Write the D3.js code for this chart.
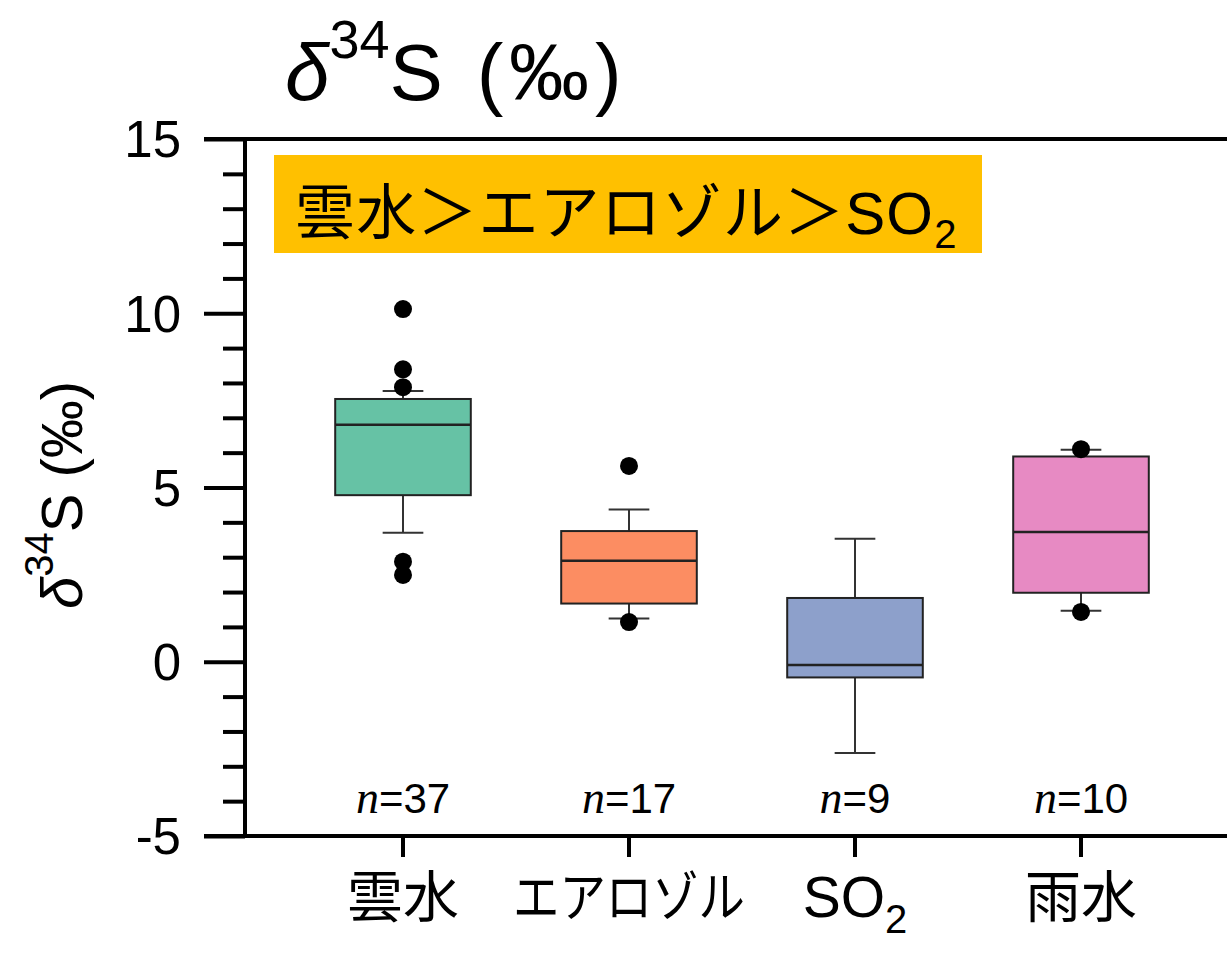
<!DOCTYPE html>
<html>
<head>
<meta charset="utf-8">
<script src="https://cdn.jsdelivr.net/npm/d3@7"></script>
<style>
  html, body { margin: 0; padding: 0; background: #fff; }
  svg { display: block; }
</style>
</head>
<body>
<svg id="chart" width="1227" height="953"></svg>
<script>
// Sulfur isotope ratios (δ34S, ‰) by sample type
const categories = ["雲水", "エアロゾル", "SO2", "雨水"];
const q1        = [4.78, 1.67, -0.45, 1.98];
const medians   = [6.80, 2.90, -0.09, 3.72];
const q3        = [7.54, 3.75, 1.83, 5.89];
const whiskerLo = [3.70, 1.24, -2.62, 1.46];
const whiskerHi = [7.77, 4.37, 3.53, 6.08];
const outliers  = [[10.12, 8.39, 7.88, 2.87, 2.49], [5.62, 1.14], [], [6.10, 1.43]];
const counts    = [37, 17, 9, 10];
const fills     = ["#66c2a5", "#fc8d62", "#8da0cb", "#e78ac3"];
const yTicks    = [15, 10, 5, 0, -5];

const latin = "'Liberation Sans', Arial, sans-serif";
const cjk = "'Liberation Sans', 'Noto Sans CJK JP', sans-serif";

const svg = d3.select("#chart");

const y = d3.scaleLinear().domain([-5, 15]).range([836, 139]);
const x = d3.scalePoint().domain(categories).range([403, 1081]);
const step = x.step();
const boxW = step * 0.6;
const capW = boxW * 0.3;

const axisLeft = 245;
const axisStroke = 4;

// Frame: top rule and bottom axis line
svg.append("line")
  .attr("x1", 204).attr("x2", 1227).attr("y1", y(15)).attr("y2", y(15))
  .attr("stroke", "#000").attr("stroke-width", axisStroke);
svg.append("line")
  .attr("x1", 204).attr("x2", 1227).attr("y1", y(-5)).attr("y2", y(-5))
  .attr("stroke", "#000").attr("stroke-width", axisStroke);

// Left axis with major (every 5) and minor (every 1) ticks
const gy = svg.append("g").attr("transform", `translate(${axisLeft},0)`);
gy.call(d3.axisLeft(y).tickValues(d3.range(-5, 16, 1)).tickSize(22).tickFormat(""));
gy.call(g => g.select(".domain").remove());
gy.selectAll(".tick line")
  .attr("stroke", "#000").attr("stroke-width", axisStroke)
  .attr("x2", d => d % 5 === 0 ? -41 : -22);
gy.append("line")
  .attr("x1", 0).attr("x2", 0).attr("y1", y(15) - 2).attr("y2", y(-5) + 2)
  .attr("stroke", "#000").attr("stroke-width", axisStroke);

// Y tick labels
svg.append("g").selectAll("text").data(yTicks).join("text")
  .attr("x", 181).attr("y", d => y(d))
  .attr("dy", "0.36em")
  .attr("text-anchor", "end")
  .attr("font-family", latin).attr("font-size", 51)
  .text(d => d);

// Bottom category ticks
svg.append("g").selectAll("line").data(categories).join("line")
  .attr("x1", d => x(d)).attr("x2", d => x(d))
  .attr("y1", y(-5)).attr("y2", y(-5) + 21)
  .attr("stroke", "#000").attr("stroke-width", axisStroke);

// Category labels
const catG = svg.append("g");
categories.forEach(c => {
  const t = catG.append("text")
    .attr("x", x(c)).attr("y", 917)
    .attr("text-anchor", "middle")
    .attr("font-family", cjk).attr("font-size", 54);
  if (c === "SO2") {
    t.attr("font-size", 57);
    t.append("tspan").text("SO");
    t.append("tspan").attr("dy", 16).attr("font-size", 40).text("2");
  } else if (c === "エアロゾル") {
    t.attr("textLength", 232).attr("lengthAdjust", "spacingAndGlyphs").text(c);
  } else {
    t.attr("font-size", 56).text(c);
  }
});

// Boxes
const boxes = svg.append("g");
categories.forEach((c, i) => {
  const cx = x(c);
  const g = boxes.append("g");
  // whiskers
  g.append("line")
    .attr("x1", cx).attr("x2", cx).attr("y1", y(q3[i])).attr("y2", y(whiskerHi[i]))
    .attr("stroke", "#333").attr("stroke-width", 2);
  g.append("line")
    .attr("x1", cx).attr("x2", cx).attr("y1", y(q1[i])).attr("y2", y(whiskerLo[i]))
    .attr("stroke", "#333").attr("stroke-width", 2);
  [whiskerHi[i], whiskerLo[i]].forEach(v => {
    g.append("line")
      .attr("x1", cx - capW / 2).attr("x2", cx + capW / 2)
      .attr("y1", y(v)).attr("y2", y(v))
      .attr("stroke", "#333").attr("stroke-width", 2);
  });
  // box
  g.append("rect")
    .attr("x", cx - boxW / 2).attr("width", boxW)
    .attr("y", y(q3[i])).attr("height", y(q1[i]) - y(q3[i]))
    .attr("fill", fills[i]).attr("stroke", "#222").attr("stroke-width", 2);
  // median
  g.append("line")
    .attr("x1", cx - boxW / 2).attr("x2", cx + boxW / 2)
    .attr("y1", y(medians[i])).attr("y2", y(medians[i]))
    .attr("stroke", "#222").attr("stroke-width", 2.5);
  // outliers
  g.selectAll("circle").data(outliers[i]).join("circle")
    .attr("cx", cx).attr("cy", d => y(d)).attr("r", 9)
    .attr("fill", "#000");
});

// Sample counts
const nG = svg.append("g");
categories.forEach((c, i) => {
  const t = nG.append("text")
    .attr("x", x(c)).attr("y", 813)
    .attr("text-anchor", "middle")
    .attr("font-size", 42);
  t.append("tspan").attr("font-family", "'Liberation Serif', 'Times New Roman', serif")
    .attr("font-style", "italic").attr("font-size", 46).text("n");
  t.append("tspan").attr("font-family", latin).text("=" + counts[i]);
});

// Highlight banner
svg.append("rect")
  .attr("x", 274).attr("y", 155).attr("width", 708).attr("height", 98)
  .attr("fill", "#ffc000");
const banner = svg.append("text")
  .attr("x", 295).attr("y", 234)
  .attr("font-family", cjk).attr("font-size", 60);
banner.append("tspan")
  .attr("textLength", 638).attr("lengthAdjust", "spacing")
  .text("雲水＞エアロゾル＞SO");
banner.append("tspan").attr("dy", 14).attr("font-size", 40).text("2");

// Title
const title = svg.append("text")
  .attr("x", 285).attr("y", 100)
  .attr("font-family", latin).attr("font-size", 80);
title.append("tspan").attr("font-style", "italic").text("δ");
title.append("tspan").attr("dy", -42).attr("font-size", 54).text("34");
title.append("tspan").attr("dy", 42).attr("textLength", 232).attr("lengthAdjust", "spacing").text("S (‰)");

// Y axis label
const yl = svg.append("text")
  .attr("transform", "translate(82,495) rotate(-90)")
  .attr("text-anchor", "middle")
  .attr("font-family", latin).attr("font-size", 58);
yl.append("tspan").attr("font-style", "italic").text("δ");
yl.append("tspan").attr("dy", -29).attr("font-size", 40).text("34");
yl.append("tspan").attr("dy", 29).text("S (‰)");
</script>
</body>
</html>
